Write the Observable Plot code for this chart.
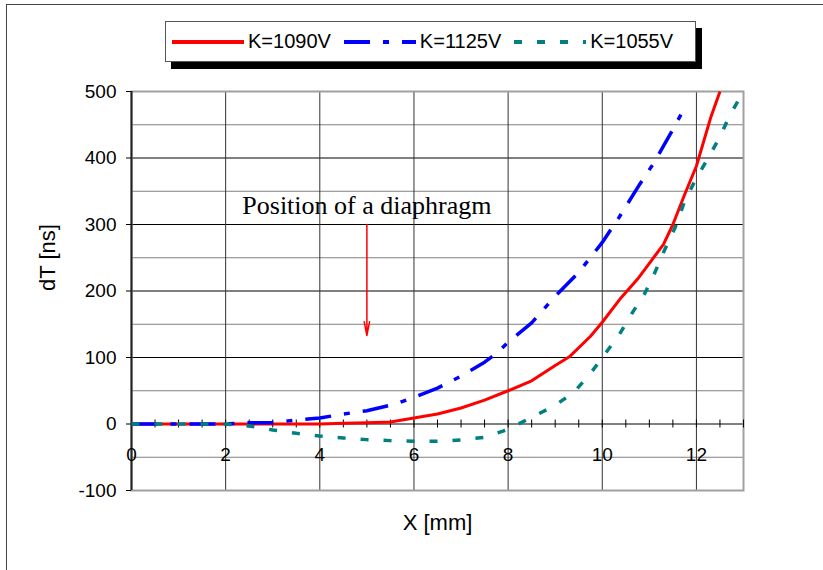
<!DOCTYPE html>
<html><head><meta charset="utf-8">
<script src="https://cdn.jsdelivr.net/npm/d3@7"></script>
<script src="https://cdn.jsdelivr.net/npm/@observablehq/plot@0.6"></script>
<style>
body{margin:0;background:#fff;}
#wrap{position:relative;width:823px;height:570px;overflow:hidden;font-family:Arial,"Liberation Sans",sans-serif;}
#chart{position:absolute;left:0;top:0;}
#border{position:absolute;left:6px;top:4px;width:840px;height:600px;border-top:1.5px solid #444;border-left:1.5px solid #444;}
#legend{position:absolute;left:165px;top:21px;width:523px;height:39px;border:1px solid #555;background:#fff;box-shadow:6px 7px 0 #000;display:flex;align-items:center;padding-left:6px;box-sizing:content-box;}
.item{display:flex;align-items:center;margin-right:13px;font-size:20px;color:#000;}
.item svg{margin-right:4px;}
</style></head><body>
<div id="wrap"><div id="chart"></div><div id="border"></div><div id="legend"></div></div>
<script>
// ---- data ----
const seriesNames = ["K=1090V", "K=1125V", "K=1055V"];
const x1090 = [0,1,2,3,4,4.5,5,5.5,6,6.5,7,7.5,8,8.5,9,9.3,9.75,10,10.4,10.75,11.3,11.5,11.75,12,12.3,12.5];
const y1090 = [0,0,0,0,0,1,2,3,9,15,24,36,50,65,88,101,132,153,190,218,270,300,345,388,460,500];
const x1125 = [0,1,2,2.5,3,3.5,4,4.5,5,5.6,6,6.5,7,7.5,7.75,8,8.5,9,9.5,10,10.35,10.8,11.1,11.5,11.8];
const y1125 = [0,0,0,2,2,6,9,15,20,30,40,54,72,93,106,123,152,192,228,273,310,361,393,443,482];
const x1055 = [0,1,2,2.5,3,3.5,4,4.5,5,5.5,6,6.5,7,7.5,8,8.5,9,9.4,9.75,10,10.35,10.6,10.9,11.1,11.3,11.55,11.75,12,12.25,12.5,12.7,13];
const y1055 = [0,0,0,-3,-9,-14,-18,-21,-23.5,-25,-26,-26,-24,-20,-8,10,28,48,76,100,133,163,196,225,258,296,335,370,400,432,463,500];
const xTickLabels = [0,2,4,6,8,10,12];
const yTickLabels = [-100,0,100,200,300,400,500];
const yMinorGrid = [-50,50,150,250,350,450];
const xMinorTicks = d3.range(0.5, 13.01, 0.5);
const annotationText = "Position of a diaphragm";
const xLabel = "X [mm]";
const yLabel = "dT [ns]";

// ---- styles ----
const colors = ["#ff0000", "#0000ff", "#008080"];
const dashes = [null, "26,13,6,13", "8,15"];
const widths = [3, 3.5, 3.5];

const toRows = (xs, ys) => xs.map((x, i) => ({x, y: ys[i]}));
const series = [toRows(x1090, y1090), toRows(x1125, y1125), toRows(x1055, y1055)];

const font = "Arial, 'Liberation Sans', sans-serif";
const chart = Plot.plot({
  width: 823, height: 570,
  marginLeft: 131, marginRight: 80, marginTop: 91, marginBottom: 80,
  x: {domain: [0, 13], axis: null},
  y: {domain: [-100, 500]},
  style: {fontFamily: font, background: "transparent", overflow: "visible", color: "#000"},
  marks: [
    Plot.ruleY(yMinorGrid, {stroke: "#808080", strokeWidth: 1}),
    Plot.ruleY(yTickLabels.filter(d => d > -100 && d < 500), {stroke: "#000", strokeWidth: 1}),
    Plot.ruleX(xTickLabels.filter(d => d > 0), {stroke: "#333", strokeWidth: 1}),
    Plot.frame({stroke: "#a0a0a0", strokeWidth: 2}),
    Plot.ruleX([0], {stroke: "#222", strokeWidth: 2}),
    Plot.ruleX(xMinorTicks, {x: d => d, y1: -6, y2: 6, stroke: "#000", strokeWidth: 1}),
    Plot.axisY({ticks: yTickLabels, tickFormat: d => String(d), tickSize: 5, tickPadding: 10, fontSize: 19, label: null, stroke: "#000"}),
    Plot.text(xTickLabels, {x: d => d, y: 0, dy: 31, text: d => String(d), fontSize: 19, fill: "#000"}),
    ...series.map((rows, i) => Plot.line(rows, {
      x: "x", y: "y", stroke: colors[i], strokeWidth: widths[i],
      strokeDasharray: dashes[i] ?? undefined, clip: true, strokeLinecap: "butt", strokeLinejoin: "round"
    })),
    Plot.text([annotationText], {x: 5, y: 328, text: d => d, fontSize: 26,
      fontFamily: "'Times New Roman', 'Liberation Serif', serif", fill: "#000"}),
    Plot.arrow([{x: 5, y1: 300, y2: 133}], {x1: "x", x2: "x", y1: "y1", y2: "y2",
      stroke: "#ff0000", strokeWidth: 1.5, headLength: 14, headAngle: 22}),
    Plot.text([yLabel], {frameAnchor: "left", dx: -84, rotate: -90, text: d => d, fontSize: 22, fill: "#000"}),
    Plot.text([xLabel], {frameAnchor: "bottom", dy: 39, text: d => d, fontSize: 22, fill: "#000"})
  ]
});
document.getElementById("chart").appendChild(chart);

// ---- legend ----
const legend = d3.select("#legend");
seriesNames.forEach((name, i) => {
  const item = legend.append("div").attr("class", "item");
  const sw = item.append("svg").attr("width", 72).attr("height", 10);
  sw.append("line").attr("x1", 0).attr("x2", 72).attr("y1", 5).attr("y2", 5)
    .attr("stroke", colors[i]).attr("stroke-width", 4)
    .attr("stroke-dasharray", dashes[i]);
  item.append("span").text(name);
});
</script>
</body></html>
